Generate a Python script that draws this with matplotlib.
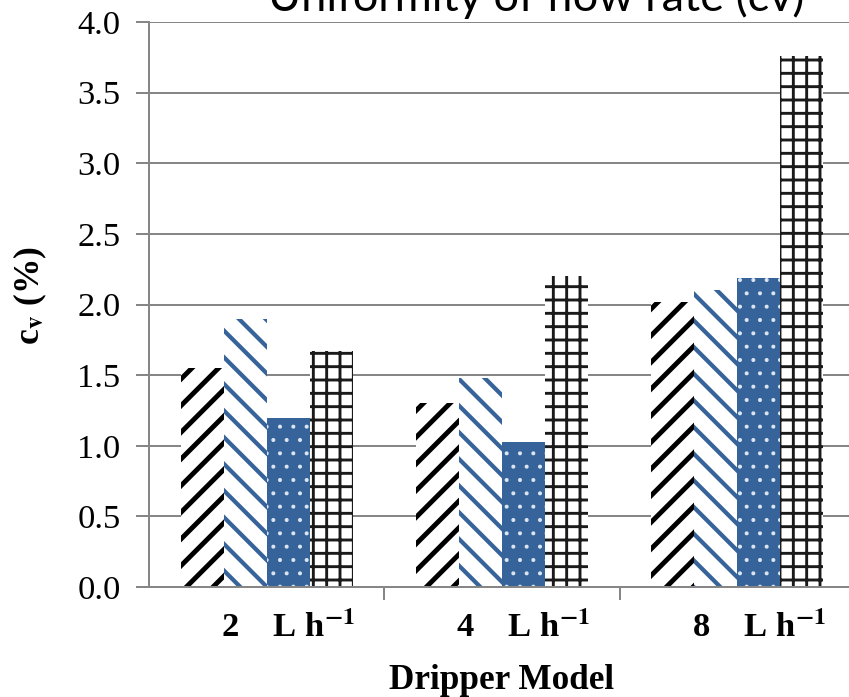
import matplotlib
matplotlib.use("Agg")
import matplotlib.pyplot as plt
import numpy as np

# dripper groups and the four series (cv, %)
groups = ["2    L h", "4    L h", "8    L h"]
s1 = [1.55, 1.30, 2.02]
s2 = [1.90, 1.48, 2.10]
s3 = [1.20, 1.03, 2.19]
s4 = [1.67, 2.20, 3.76]
yticks = [0.0, 0.5, 1.0, 1.5, 2.0, 2.5, 3.0, 3.5, 4.0]

DPI = 160
blue = '#36639A'
gray = '#868686'

plt.rcParams['font.family'] = 'Liberation Serif'
plt.rcParams['mathtext.fontset'] = 'stix'

fig = plt.figure(figsize=(849 / DPI, 697 / DPI), dpi=DPI)
ax = fig.add_axes([149 / 849, 110 / 697, 706 / 849, 565 / 697])

x = np.arange(len(groups))
w = 0.183

styles = [
    (s1, 'white', 'black', '//', 2.2),
    (s2, 'white', blue, '\\\\', 1.9),
    (s3, blue, '#dce6f2', '..', 0.6),
    (s4, 'white', '#1a1a1a', '++', 1.3),
]
for i, (vals, fc, hc, hatch, hlw) in enumerate(styles):
    plt.rcParams['hatch.linewidth'] = hlw
    bars = ax.bar(x + (i - 1.5) * w, vals, w, facecolor=fc, edgecolor=hc,
                  hatch=hatch, linewidth=0, zorder=2)
    for b in bars:
        if hasattr(b, 'set_hatch_linewidth'):
            b.set_hatch_linewidth(hlw)

ax.set_xlim(-0.5, 2.5)
ax.set_ylim(0, 4.0)
ax.set_yticks(yticks)
ax.set_yticklabels(["%.1f" % v for v in yticks], fontsize=15.5)
ax.yaxis.grid(True, color=gray, linewidth=0.9)
ax.set_axisbelow(True)

for s in ['top', 'right']:
    ax.spines[s].set_visible(False)
for s in ['left', 'bottom']:
    ax.spines[s].set_color(gray)
    ax.spines[s].set_linewidth(0.9)

ax.tick_params(axis='y', length=5.8, width=0.9, color=gray, pad=7)
ax.set_xticks(x + 0.09)
ax.set_xticklabels([g + r"$^{\mathbf{-1}}$" for g in groups],
                   fontsize=15.5, fontweight='bold')
ax.tick_params(axis='x', which='major', length=0, pad=11)
ax.set_xticks([0.5, 1.5, 2.5], minor=True)
ax.tick_params(axis='x', which='minor', length=5.8, width=0.9, color=gray)

ax.set_xlabel("Dripper Model", fontsize=15.8, fontweight='bold', labelpad=9)
ax.set_ylabel(r"c$_\mathbf{v}$ (%)", fontsize=16, fontweight='bold')
ax.yaxis.set_label_coords(-0.141, 0.515)

fig.text(536 / 849, 1 - 11 / 697, "Uniformity of flow rate (cv)",
         family='Lato', fontsize=20.3, ha='center', va='baseline')

fig.savefig("out.png", dpi=DPI)
